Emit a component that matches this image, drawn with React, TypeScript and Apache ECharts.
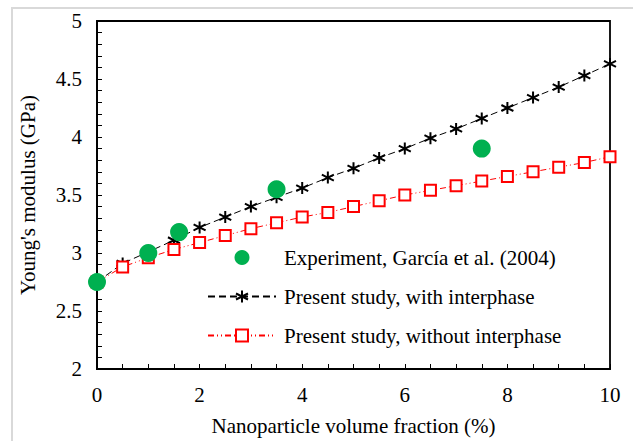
import React, { useEffect, useRef } from "react";
import * as echarts from "echarts";

// Nanoparticle volume fraction (%) for the model curves
const fractions = [0, 0.5, 1, 1.5, 2, 2.5, 3, 3.5, 4, 4.5, 5, 5.5, 6, 6.5, 7, 7.5, 8, 8.5, 9, 9.5, 10];
// Young's modulus (GPa), present study with interphase
const withInterphase = [2.75, 2.91, 3.01, 3.11, 3.22, 3.31, 3.4, 3.48, 3.56, 3.65, 3.73, 3.82, 3.9, 3.99, 4.07, 4.16, 4.25, 4.34, 4.43, 4.53, 4.63];
// Young's modulus (GPa), present study without interphase
const withoutInterphase = [2.75, 2.88, 2.96, 3.03, 3.09, 3.15, 3.21, 3.26, 3.31, 3.35, 3.4, 3.45, 3.5, 3.54, 3.58, 3.62, 3.66, 3.7, 3.74, 3.78, 3.83];
// Experimental points, García et al. (2004)
const expFractions = [0, 1, 1.6, 3.5, 7.5];
const expModulus = [2.75, 3.0, 3.18, 3.55, 3.9];

const seriesNames = [
  "Experiment, García et al. (2004)",
  "Present study, with interphase",
  "Present study, without interphase",
];

const FONT = "'Liberation Serif', 'Times New Roman', serif";
const ASTERISK = "path://M0,-1L0,1M-0.866,-0.5L0.866,0.5M-0.866,0.5L0.866,-0.5";

export default function App() {
  const ref = useRef<HTMLDivElement>(null);

  useEffect(() => {
    if (!ref.current) return;
    const chart = echarts.init(ref.current, null, { renderer: "svg" });
    const zip = (xs: number[], ys: number[]) => xs.map((x, i) => [x, ys[i]]);

    chart.setOption({
      animation: false,
      backgroundColor: "#fff",
      textStyle: { fontFamily: FONT, color: "#000" },
      graphic: [
        {
          type: "rect",
          shape: { x: 12, y: 8, width: 640, height: 460 },
          style: { fill: "none", stroke: "#d9d9d9", lineWidth: 2 },
          silent: true,
        },
      ],
      grid: {
        left: 97,
        right: 23,
        top: 21,
        bottom: 72,
        show: true,
        borderColor: "#000",
        borderWidth: 1.8,
      },
      legend: {
        orient: "vertical",
        left: 207,
        top: 247,
        padding: 0,
        itemWidth: 68,
        itemHeight: 15,
        itemGap: 18,
        data: seriesNames,
        textStyle: { fontFamily: FONT, fontSize: 21, color: "#000", padding: [0, 0, 0, 3] },
      },
      xAxis: {
        type: "value",
        min: 0,
        max: 10,
        interval: 2,
        name: "Nanoparticle volume fraction (%)",
        nameLocation: "middle",
        nameGap: 46,
        nameTextStyle: { fontFamily: FONT, fontSize: 21, color: "#000" },
        axisLine: { show: true, lineStyle: { color: "#000", width: 1.8 } },
        axisTick: { show: true, inside: true, length: 5, lineStyle: { color: "#000" } },
        minorTick: { show: true, splitNumber: 4, length: 5, lineStyle: { color: "#000" } },
        axisLabel: { fontFamily: FONT, fontSize: 21, color: "#000", margin: 15 },
        splitLine: { show: false },
      },
      yAxis: {
        type: "value",
        min: 2,
        max: 5,
        interval: 0.5,
        name: "Young's modulus (GPa)",
        nameLocation: "middle",
        nameGap: 59,
        nameTextStyle: { fontFamily: FONT, fontSize: 21, color: "#000" },
        axisLine: { show: true, lineStyle: { color: "#000", width: 1.8 } },
        axisTick: { show: true, inside: true, length: 5, lineStyle: { color: "#000" } },
        minorTick: { show: true, splitNumber: 5, length: 5, lineStyle: { color: "#000" } },
        axisLabel: { fontFamily: FONT, fontSize: 21, color: "#000", margin: 15 },
        splitLine: { show: false },
      },
      series: [
        {
          name: seriesNames[1],
          type: "line",
          data: zip(fractions, withInterphase),
          symbol: ASTERISK,
          symbolSize: 12,
          itemStyle: { color: "#000", borderColor: "#000", borderWidth: 2 },
          lineStyle: { color: "#000", width: 1, type: [7, 4] },
          z: 3,
        },
        {
          name: seriesNames[2],
          type: "line",
          data: zip(fractions, withoutInterphase),
          symbol: "rect",
          symbolSize: 11,
          itemStyle: { color: "#fff", borderColor: "#ff0000", borderWidth: 2 },
          lineStyle: { color: "#ff0000", width: 1, type: [6, 3, 1, 3, 1, 3] },
          z: 3,
        },
        {
          name: seriesNames[0],
          type: "scatter",
          data: zip(expFractions, expModulus),
          symbol: "circle",
          symbolSize: 18,
          itemStyle: { color: "#00b050", opacity: 1 },
          z: 4,
        },
      ],
    });

    return () => chart.dispose();
  }, []);

  return (
    <div
      ref={ref}
      style={{ position: "absolute", left: 0, top: 0, width: 633, height: 441 }}
    />
  );
}
